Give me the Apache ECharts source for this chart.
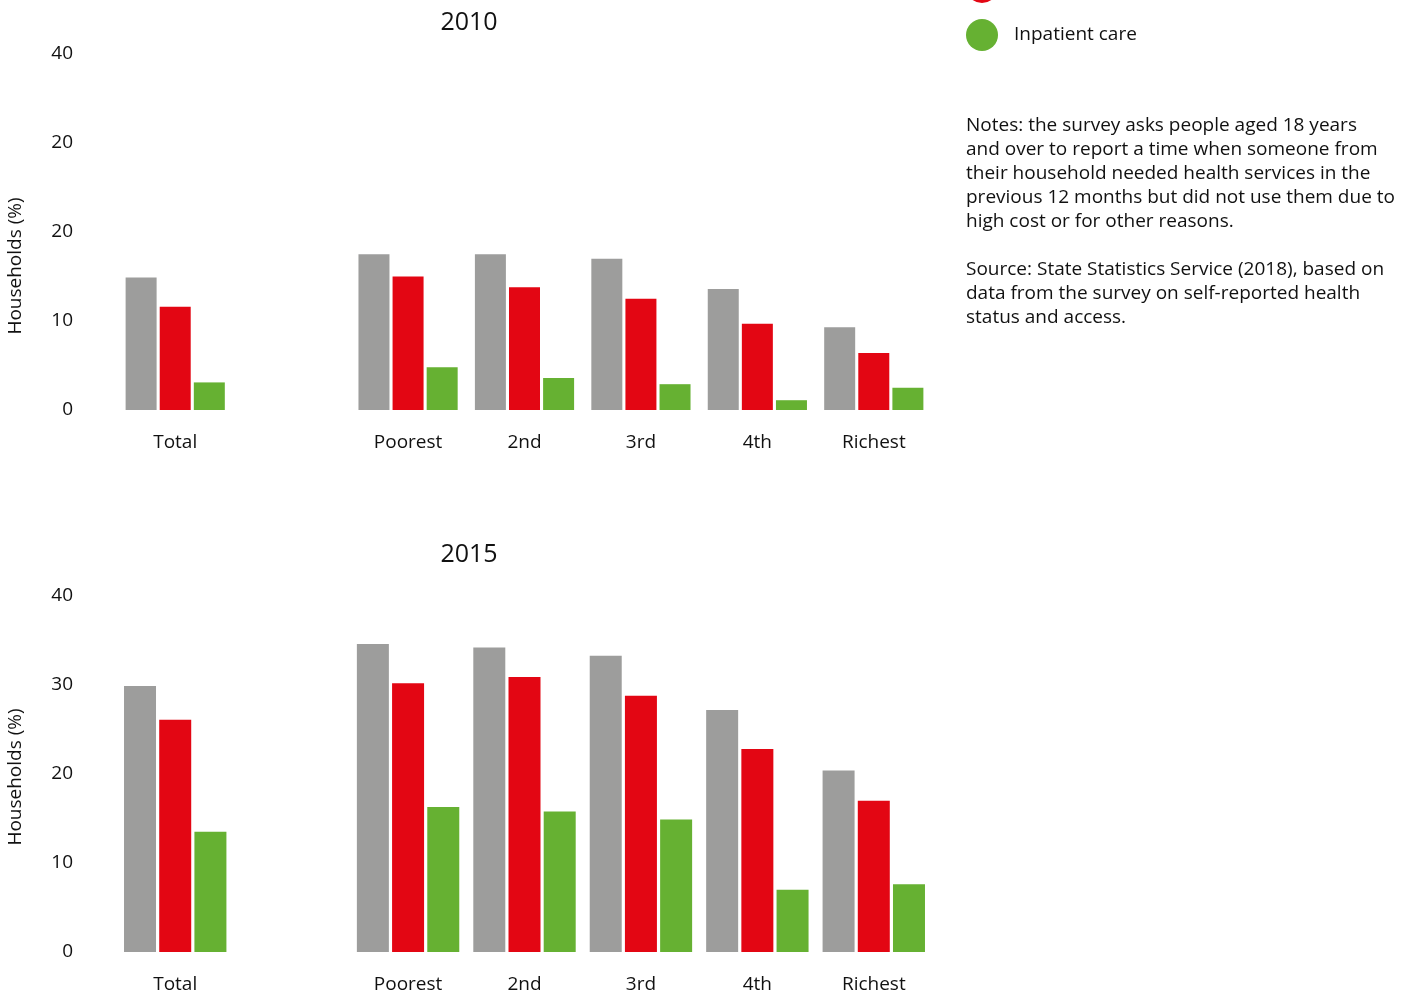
<!DOCTYPE html>
<html>
<head>
<meta charset="utf-8">
<script src="https://cdn.jsdelivr.net/npm/echarts@6/dist/echarts.min.js"></script>
<style>
html,body{margin:0;padding:0;background:#fff;}
#chart{width:1424px;height:993px;}
</style>
</head>
<body>
<div id="chart"></div>
<script>
var categories = ['Total', '', 'Poorest', '2nd', '3rd', '4th', 'Richest'];
var seriesNames = ['Health care', 'Medicines', 'Inpatient care'];
var years = ['2010', '2015'];
var yTickLabels2010 = ['0', '10', '20', '20', '40'];
var yTickLabels2015 = ['0', '10', '20', '30', '40'];
var y2010_s1 = [14.9, null, 17.5, 17.5, 17.0, 13.6, 9.3];
var y2010_s2 = [11.6, null, 15.0, 13.8, 12.5, 9.7, 6.4];
var y2010_s3 = [3.1, null, 4.8, 3.6, 2.9, 1.1, 2.5];
var y2015_s1 = [29.9, null, 34.6, 34.2, 33.3, 27.2, 20.4];
var y2015_s2 = [26.1, null, 30.2, 30.9, 28.8, 22.8, 17.0];
var y2015_s3 = [13.5, null, 16.3, 15.8, 14.9, 7.0, 7.6];
var yAxisName = 'Households (%)';
var notesText = [
  'Notes: the survey asks people aged 18 years',
  'and over to report a time when someone from',
  'their household needed health services in the',
  'previous 12 months but did not use them due to',
  'high cost or for other reasons.',
  '',
  'Source: State Statistics Service (2018), based on',
  'data from the survey on self-reported health',
  'status and access.'
];

var FONT = 'Open Sans';
var FS = 19;
var TXT = '#111';
var colors = ['#9d9d9c', '#e30613', '#66b132'];

function yAxisFor(idx, labels, namePad) {
  return {
    gridIndex: idx, type: 'value', min: 0, max: 40, interval: 10,
    axisLine: {show: false}, axisTick: {show: false}, splitLine: {show: false},
    axisLabel: {
      margin: 44, fontSize: FS, color: TXT, fontFamily: FONT,
      formatter: function (v) { return labels[Math.round(v / 10)]; }
    },
    name: yAxisName, nameLocation: 'middle', nameRotate: 90, nameGap: 92,
    nameTextStyle: {fontSize: FS, color: TXT, fontFamily: FONT, padding: namePad}
  };
}
function xAxisFor(idx) {
  return {
    gridIndex: idx, type: 'category', data: categories,
    axisLine: {show: false}, axisTick: {show: false},
    axisLabel: {margin: 23, fontSize: FS, color: TXT, fontFamily: FONT, interval: 0}
  };
}
function bar(name, data, idx, ci, bw) {
  return {
    name: name, type: 'bar', data: data, xAxisIndex: idx, yAxisIndex: idx,
    barWidth: bw, barGap: '10%',
    itemStyle: {color: colors[ci]},
    emphasis: {disabled: true}
  };
}

var chart = echarts.init(document.getElementById('chart'), null, {renderer: 'canvas'});
chart.setOption({
  backgroundColor: '#fff',
  animation: false,
  title: [
    {text: years[0], left: 469, top: 10, textAlign: 'center', padding: 0,
     textStyle: {fontSize: 25, fontWeight: 'normal', color: TXT, fontFamily: FONT}},
    {text: years[1], left: 469, top: 542, textAlign: 'center', padding: 0,
     textStyle: {fontSize: 25, fontWeight: 'normal', color: TXT, fontFamily: FONT}}
  ],
  legend: {
    orient: 'vertical', left: 966, top: -77, itemGap: 16, padding: 0,
    itemWidth: 32, itemHeight: 32, icon: 'circle',
    data: seriesNames,
    textStyle: {fontSize: FS, color: TXT, fontFamily: FONT, padding: [0, 0, 0, 11]}
  },
  grid: [
    {left: 117, right: 492, top: 54, height: 356, outerBoundsMode: 'none', containLabel: false},
    {left: 117, right: 492, top: 596, height: 356, outerBoundsMode: 'none', containLabel: false}
  ],
  xAxis: [xAxisFor(0), xAxisFor(1)],
  yAxis: [yAxisFor(0, yTickLabels2010, [0, 68, 0, 0]), yAxisFor(1, yTickLabels2015, [0, 6, 0, 0])],
  series: [
    bar(seriesNames[0], y2010_s1, 0, 0, 31),
    bar(seriesNames[1], y2010_s2, 0, 1, 31),
    bar(seriesNames[2], y2010_s3, 0, 2, 31),
    bar(seriesNames[0], y2015_s1, 1, 0, 32),
    bar(seriesNames[1], y2015_s2, 1, 1, 32),
    bar(seriesNames[2], y2015_s3, 1, 2, 32)
  ],
  graphic: [{
    type: 'text', left: 966, top: 114,
    style: {text: notesText.join('\n'), fontSize: FS, lineHeight: 24, fill: TXT, fontFamily: FONT}
  }]
});
</script>
</body>
</html>
